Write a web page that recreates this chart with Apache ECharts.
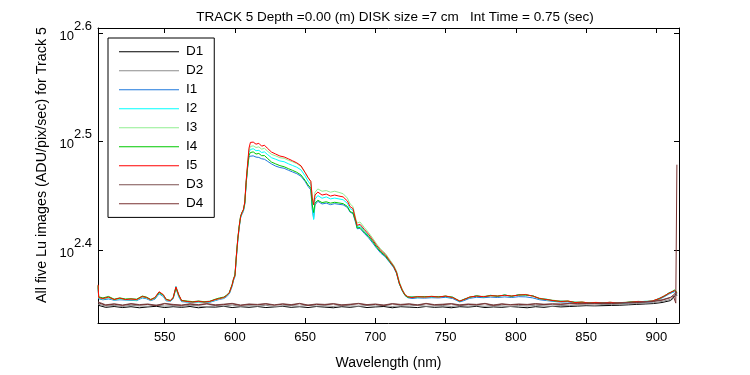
<!DOCTYPE html>
<html>
<head>
<meta charset="utf-8">
<title>Track 5 - Lu images</title>
<script src="https://cdn.jsdelivr.net/npm/echarts@6/dist/echarts.min.js"></script>
<style>
  html, body { margin: 0; padding: 0; background: #fff; }
  #chart { width: 750px; height: 375px; }
</style>
</head>
<body>
<div id="chart"></div>
<script>
const fontFamily = 'Liberation Sans, Arial, sans-serif'

// wavelength grid (nm) of the five Lu images
const wavelength = [502.6,503,506,510,514,518,522,526,530,534,537,540,543,546,547,549,551,554,556,558,560,562,566,570,574,578,582,586,589,592,594,596,
  598,599,600,601,602,603,604,605,606,607,608,609,610,
  611,613,615,617,619,621,623,626,629,632,635,638,641,644,647,650,652,654,
  655,656,657,659,662,665,668,671,674,677,680,682,684,
  686,687,689,692,695,698,701,704,707,710,713,715,717,719,721,723,
  726,730,735,740,745,750,755,760,763,767,772,777,782,787,792,797,802,807,812,817,822,827,832,837,842,847,852,857,862,867,872,877,882,887,892,897,902,906,909,911,913,914.6]

// ADU/pix/sec
const I1 = [232.0,226.5,226.0,226.4,225.8,226.0,225.9,225.7,225.6,226.9,226.5,225.6,226.3,228.9,229.6,227.6,225.5,225.3,226.4,231.6,227.4,225.1,224.9,224.6,224.9,224.7,224.8,225.6,226.2,226.6,227.5,228.8,
  232.6,235.5,237.4,247.0,256.0,263.2,268.9,271.1,272.6,276.8,289.5,299.0,306.5,
  307.0,306.8,306.0,305.8,304.9,304.6,303.4,301.6,300.2,299.3,298.8,297.6,296.5,295.4,293.8,290.5,287.6,285.4,
  274.0,268.5,276.5,278.6,277.0,277.5,276.6,277.2,276.8,276.5,275.0,272.2,271.4,
  266.0,262.8,263.0,260.3,257.9,255.0,252.0,249.4,247.6,244.8,242.0,239.0,233.8,230.5,228.1,227.0,
  226.6,226.9,226.8,227.0,226.9,227.2,226.6,225.0,225.6,226.7,227.2,227.0,227.3,227.1,227.4,227.1,227.5,227.4,226.9,226.0,
  225.6,225.2,224.9,225.0,224.4,224.6,224.3,224.5,224.3,224.5,224.3,224.5,224.6,224.9,224.9,225.1,226.2,227.6,228.8,229.4,229.9,229.0]
const I2 = [232.6,226.8,226.4,226.9,225.9,226.3,226.0,226.1,225.8,227.2,226.8,225.9,226.7,229.4,229.9,228.0,225.8,225.5,226.9,232.6,228.0,225.4,225.0,224.8,225.1,224.8,225.0,225.9,226.5,226.9,227.8,229.2,
  233.0,235.9,237.8,247.6,256.6,263.7,269.2,271.6,273.1,277.6,290.3,300.2,309.0,
  311.0,311.5,310.2,310.4,309.0,309.4,307.8,305.6,304.6,303.5,303.0,301.7,300.6,299.5,297.8,293.9,290.8,288.5,
  277.5,268.0,279.8,282.0,280.4,281.2,280.0,280.5,280.0,279.5,277.4,274.3,273.3,
  267.0,264.0,264.6,261.8,259.0,256.0,252.8,250.2,248.4,245.5,242.7,239.9,234.6,231.0,228.3,227.3,
  227.4,227.3,227.6,227.4,227.6,227.5,227.3,225.2,226.3,227.1,228.0,227.3,228.2,227.6,228.4,227.6,228.5,228.2,228.0,226.4,
  226.3,225.4,225.4,225.2,224.9,224.7,224.7,224.5,224.7,224.6,224.7,224.5,225.1,225.0,225.3,225.2,226.8,227.8,229.4,229.6,230.2,229.2]
const I3 = [232.8,226.9,226.3,227.0,226.0,226.5,226.1,226.0,225.9,227.3,226.9,225.8,226.8,229.5,230.0,228.2,225.9,225.4,226.8,231.9,228.1,225.5,225.1,224.9,225.0,224.9,225.1,226.0,226.4,226.9,227.9,229.3,
  233.1,236.0,237.7,247.8,256.8,263.8,269.5,271.8,273.4,278.0,290.8,300.8,310.5,
  313.0,313.4,312.3,312.7,311.2,311.8,310.0,307.8,306.8,305.6,305.2,304.0,303.0,301.8,300.0,295.9,292.8,290.5,
  281.5,277.8,284.0,286.0,284.6,285.0,284.0,284.6,283.9,283.1,280.5,277.0,275.5,
  268.4,266.0,266.6,263.6,260.8,257.6,254.3,251.5,249.5,246.3,243.2,240.2,234.8,231.2,228.7,227.6,
  227.0,227.6,227.2,227.8,227.2,227.9,227.0,225.6,226.0,227.4,227.6,227.7,227.8,228.0,228.0,228.0,228.1,228.6,227.6,226.8,
  225.9,225.8,225.0,225.5,224.6,225.0,224.4,224.8,224.4,224.9,224.4,224.8,224.8,225.3,225.0,225.5,226.4,228.2,229.0,230.1,230.6,229.6]
const I4 = [233.0,227.4,226.9,227.6,226.3,226.9,226.4,226.5,226.3,227.8,227.3,226.2,227.0,229.6,230.1,228.3,226.3,225.7,226.9,231.8,228.2,225.7,225.4,225.1,225.4,225.1,225.3,226.3,226.9,227.3,228.2,229.6,
  233.5,236.4,238.3,248.3,257.3,264.3,269.9,272.2,273.5,277.5,289.8,299.5,307.2,
  309.0,309.4,308.0,308.4,306.9,307.0,305.3,302.8,301.6,300.5,299.8,298.6,297.5,296.3,294.6,291.2,288.5,286.4,
  276.5,272.0,277.5,279.2,277.8,278.3,277.5,278.0,277.6,277.2,275.6,272.6,271.8,
  266.8,263.2,263.6,261.0,258.6,255.8,252.6,250.0,248.1,245.2,242.4,239.4,233.9,230.6,228.2,227.2,
  227.3,227.4,227.5,227.5,227.5,227.7,227.2,225.3,226.2,227.2,227.9,227.4,228.1,227.7,228.3,227.7,228.4,228.3,227.9,226.5,
  226.2,225.5,225.3,225.3,224.8,224.8,224.6,224.6,224.6,224.7,224.6,224.6,225.0,225.1,225.2,225.3,226.5,227.9,229.3,229.8,230.8,229.5]
const I5 = [233.3,227.1,226.6,227.3,226.1,226.8,226.1,226.4,226.1,227.6,227.1,226.0,227.1,229.9,230.4,228.5,226.1,225.6,227.1,232.3,228.5,225.6,225.2,224.9,225.3,224.9,225.2,226.1,226.6,227.1,228.0,229.4,
  233.3,236.2,238.0,248.0,257.0,264.0,269.7,272.0,273.7,278.2,291.2,301.6,311.9,
  315.7,315.9,314.5,315.1,313.2,313.8,311.9,309.3,308.0,306.7,306.1,304.9,303.6,302.3,300.4,296.1,293.1,290.6,
  280.6,276.5,282.3,284.1,282.3,282.9,281.7,282.3,281.7,281.2,278.8,275.4,274.3,
  267.5,264.7,265.3,262.5,259.8,256.7,253.5,250.8,248.8,245.7,242.6,239.6,234.2,230.9,228.5,227.5,
  227.1,227.5,227.3,227.6,227.3,227.8,227.1,225.4,226.1,227.3,227.8,227.5,228.0,227.8,228.2,227.8,228.3,228.5,227.8,226.6,
  226.1,225.6,225.2,225.4,224.7,224.9,224.5,224.7,224.5,224.8,224.5,224.7,224.9,225.2,225.1,225.4,226.6,228.0,229.2,229.9,230.4,229.4]

// dark frames, coarser grid
const darkWavelength = [502.6,508,514,520,526,532,538,544,550,556,562,568,574,580,586,592,598,604,610,616,622,628,634,640,646,652,658,664,670,676,682,688,694,700,706,712,718,724,730,736,742,748,754,760,766,772,778,784,790,796,802,808,814,820,826,832,838,844,850,856,862,868,874,880,886,892,898,904,910,912,913.8,914.6]
const D1 = [223.4,222.4,222.8,222.3,222.7,222.2,222.6,222.9,222.3,222.7,222.4,222.8,222.2,222.6,222.5,222.9,222.3,222.7,222.4,222.8,
  222.3,222.6,222.9,222.4,222.7,222.3,222.8,222.5,222.2,222.7,222.4,222.9,222.3,222.6,222.8,222.2,222.7,222.5,222.3,222.8,
  222.4,222.6,222.2,222.7,222.5,222.9,222.3,222.6,222.4,222.8,222.5,222.2,222.7,222.4,222.9,222.6,222.8,223.0,223.2,223.1,
  223.2,223.3,223.4,223.6,223.8,224.0,224.2,224.7,225.6,226.8,228.8,228.0]
const D2 = [223.9,223.0,223.3,222.8,223.4,223.1,222.9,223.5,223.0,223.2,222.8,223.4,223.1,222.7,223.3,223.0,223.5,222.9,223.2,223.0,
  223.4,222.8,223.1,223.3,222.9,223.4,223.0,223.2,222.8,223.5,223.1,222.9,223.3,223.0,223.4,222.8,223.2,223.0,223.5,222.9,
  223.1,223.3,222.8,223.4,223.0,223.2,222.9,223.5,223.1,222.8,223.3,223.0,223.4,223.1,222.9,223.3,223.2,223.5,223.6,223.4,
  223.8,223.7,223.9,224.0,224.2,224.4,224.6,225.2,226.2,227.4,229.2,228.4]
const D3 = [225.0,223.6,224.1,223.5,224.2,223.7,224.0,223.4,224.3,223.8,223.5,224.1,223.7,224.2,223.6,223.9,224.3,223.5,224.0,223.8,
  224.2,223.6,224.1,223.7,224.3,223.5,224.0,223.8,224.2,223.6,223.9,224.3,223.7,224.0,223.5,224.2,223.8,224.1,223.6,224.3,
  223.7,223.9,224.2,223.6,224.0,223.8,224.3,223.5,224.1,223.7,224.0,223.8,224.2,223.9,224.1,224.0,224.3,224.2,224.4,224.3,
  224.5,224.4,224.6,224.7,224.9,225.1,225.4,226.0,227.2,228.2,229.6,229.0]
const D4 = [224.6,223.4,223.9,223.3,224.0,223.5,223.8,223.2,224.1,223.6,223.3,223.9,223.5,224.0,223.4,223.7,224.1,223.3,223.8,223.6,
  224.0,223.4,223.9,223.5,224.1,223.3,223.8,223.6,224.0,223.4,223.7,224.1,223.5,223.8,223.3,224.0,223.6,223.9,223.4,224.1,
  223.5,223.7,224.0,223.4,223.8,223.6,224.1,223.3,223.9,223.5,223.8,223.6,224.0,223.7,223.9,223.8,224.1,224.0,224.2,224.1,
  224.3,224.2,224.4,224.5,224.7,224.9,225.2,225.8,227.0,228.0,224.4,301.1]

const xTicks = [550, 600, 650, 700, 750, 800, 850, 900]
const yTicks = [2.4, 2.5, 2.6]   // powers of ten

const seriesList = [
  { name: 'D1', x: darkWavelength, y: D1, color: '#000000' },
  { name: 'D2', x: darkWavelength, y: D2, color: '#8c8c8c' },
  { name: 'I1', x: wavelength, y: I1, color: '#1e78dc' },
  { name: 'I2', x: wavelength, y: I2, color: '#00ffff' },
  { name: 'I3', x: wavelength, y: I3, color: '#90ee90' },
  { name: 'I4', x: wavelength, y: I4, color: '#00c800' },
  { name: 'I5', x: wavelength, y: I5, color: '#ff0000' },
  { name: 'D3', x: darkWavelength, y: D3, color: '#7d5050' },
  { name: 'D4', x: darkWavelength, y: D4, color: '#783232' }
]

function initChart() {
  const myChart = echarts.init(document.getElementById('chart'))
  const xMin = 502.5, xMax = 916.1
  const yMin = 2.3327, yMax = 2.6048
  const tickStyle = { inside: true, length: 5, lineStyle: { color: '#000' } }

  const option = {
    animation: false,
    backgroundColor: '#fff',
    textStyle: { fontFamily: fontFamily },
    title: {
      text: 'TRACK 5 Depth =0.00 (m) DISK size =7 cm   Int Time = 0.75 (sec)',
      left: 390,
      top: 5,
      textAlign: 'center',
      textStyle: { fontSize: 13.5, fontWeight: 'normal', color: '#000', fontFamily: fontFamily }
    },
    legend: {
      left: 108,
      top: 38,
      orient: 'vertical',
      backgroundColor: '#fff',
      borderColor: '#000',
      borderWidth: 1,
      borderRadius: 0,
      padding: [6.7, 11, 6.7, 11],
      icon: 'rect',
      itemWidth: 60,
      itemHeight: 1,
      itemGap: 5.0,
      textStyle: { fontSize: 13.5, color: '#000', fontFamily: fontFamily, padding: [0, 0, 0, 2] },
      data: seriesList.map(s => s.name)
    },
    grid: { left: 98, right: 71, top: 28, bottom: 44 },
    xAxis: [
      {
        type: 'value',
        min: xMin,
        max: xMax,
        name: 'Wavelength (nm)',
        nameLocation: 'middle',
        nameGap: 33,
        nameTextStyle: { fontSize: 14, color: '#000', fontFamily: fontFamily },
        axisLine: { onZero: false, lineStyle: { color: '#000', width: 1 } },
        axisTick: Object.assign({ customValues: xTicks }, tickStyle),
        axisLabel: { customValues: xTicks, fontSize: 13, color: '#000', margin: 8, fontFamily: fontFamily },
        splitLine: { show: false }
      },
      {
        type: 'value',
        position: 'top',
        min: xMin,
        max: xMax,
        axisLine: { onZero: false, lineStyle: { color: '#000', width: 1 } },
        axisTick: Object.assign({ customValues: xTicks }, tickStyle),
        axisLabel: { show: false },
        splitLine: { show: false }
      }
    ],
    yAxis: [
      {
        type: 'value',
        min: yMin,
        max: yMax,
        name: 'All five Lu images (ADU/pix/sec) for Track 5',
        nameLocation: 'middle',
        nameGap: 38,
        nameTextStyle: { fontSize: 14.3, color: '#000', fontFamily: fontFamily, padding: [0, 0, 0, 21] },
        axisLine: { onZero: false, lineStyle: { color: '#000', width: 1 } },
        axisTick: Object.assign({ customValues: yTicks }, tickStyle),
        axisLabel: {
          customValues: yTicks,
          margin: 6,
          padding: [6, 0, 0, 0],
          formatter: v => '{b|10}{e|' + v.toFixed(1) + '}',
          rich: {
            b: { fontSize: 13, color: '#000', fontFamily: fontFamily },
            e: { fontSize: 13, color: '#000', fontFamily: fontFamily, padding: [0, 0, 20, 0] }
          }
        },
        splitLine: { show: false }
      },
      {
        type: 'value',
        position: 'right',
        min: yMin,
        max: yMax,
        axisLine: { onZero: false, lineStyle: { color: '#000', width: 1 } },
        axisTick: Object.assign({ customValues: yTicks }, tickStyle),
        axisLabel: { show: false },
        splitLine: { show: false }
      }
    ],
    series: seriesList.map(s => ({
      name: s.name,
      type: 'line',
      xAxisIndex: 0,
      yAxisIndex: 0,
      symbol: 'none',
      showSymbol: false,
      silent: true,
      color: s.color,
      lineStyle: { width: 1, color: s.color },
      data: s.x.map((x, i) => [x, Math.log10(s.y[i])])
    }))
  }
  option && myChart.setOption(option)
}

initChart()
</script>
</body>
</html>
